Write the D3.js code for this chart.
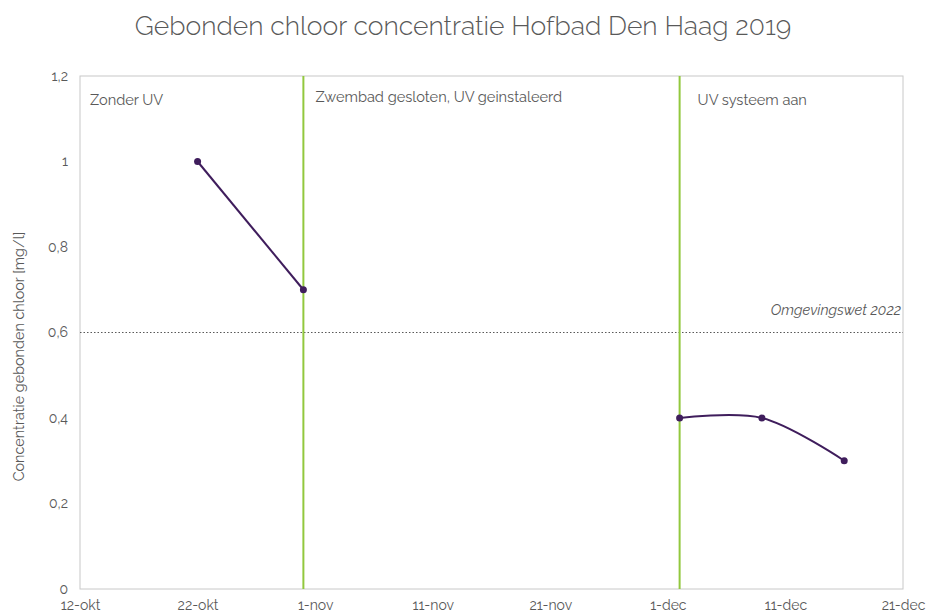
<!DOCTYPE html>
<html>
<head>
<meta charset="utf-8">
<script src="https://cdn.jsdelivr.net/npm/d3@7"></script>
<style>
  body { margin: 0; background: #fff; }
  text { font-family: Raleway, Lato, "Open Sans", sans-serif; fill: #595959; }
</style>
</head>
<body>
<div id="chart"></div>
<script>
// data
const datesZonderUV = ["2019-10-22", "2019-10-31"];
const valuesZonderUV = [1.0, 0.7];
const datesMetUV = ["2019-12-02", "2019-12-09", "2019-12-16"];
const valuesMetUV = [0.4, 0.4, 0.3];
const markerDates = ["2019-10-31", "2019-12-02"];
const tickDates = ["2019-10-12", "2019-10-22", "2019-11-01", "2019-11-11", "2019-11-21", "2019-12-01", "2019-12-11", "2019-12-21"];
const yTicks = [0, 0.2, 0.4, 0.6, 0.8, 1, 1.2];
const normValue = 0.6;
const monthNames = ["jan", "feb", "mrt", "apr", "mei", "jun", "jul", "aug", "sep", "okt", "nov", "dec"];

const svgWidth = 926, svgHeight = 614;
const margin = { top: 76, right: 23, bottom: 25, left: 80 };
const width = svgWidth - margin.left - margin.right;
const height = svgHeight - margin.top - margin.bottom;

const parse = d3.utcParse("%Y-%m-%d");

const svg = d3.select("#chart").append("svg")
  .attr("width", svgWidth)
  .attr("height", svgHeight);

svg.append("text")
  .attr("x", svgWidth / 2)
  .attr("y", 35)
  .attr("text-anchor", "middle")
  .style("font-size", "26.5px")
  .style("font-weight", 300)
  .text("Gebonden chloor concentratie Hofbad Den Haag 2019");

const g = svg.append("g")
  .attr("transform", `translate(${margin.left}, ${margin.top})`);

const x = d3.scaleUtc()
  .domain([parse("2019-10-12"), parse("2019-12-21")])
  .range([0, width]);

const y = d3.scaleLinear()
  .domain([0, 1.2])
  .range([height, 0]);

// plot frame
g.append("rect")
  .attr("width", width)
  .attr("height", height)
  .attr("fill", "none")
  .attr("stroke", "#c8c8c8")
  .attr("stroke-width", 1);

// axes (labels only, frame draws the lines)
const xAxis = d3.axisBottom(x)
  .tickValues(tickDates.map(parse))
  .tickSize(0)
  .tickPadding(11)
  .tickFormat(d => d.getUTCDate() + "-" + monthNames[d.getUTCMonth()]);

const xg = g.append("g")
  .attr("transform", `translate(0, ${height})`)
  .call(xAxis);
xg.select(".domain").remove();
xg.selectAll("text").style("font-size", "14px").style("font-family", null).attr("fill", null);

const yAxis = d3.axisLeft(y)
  .tickValues(yTicks)
  .tickSize(0)
  .tickPadding(12)
  .tickFormat(d => String(d).replace(".", ","));

const yg = g.append("g").call(yAxis);
yg.select(".domain").remove();
yg.selectAll("text").style("font-size", "14px").style("font-family", null).attr("fill", null);

svg.append("text")
  .attr("transform", `translate(24, ${margin.top + height / 2 + 24}) rotate(-90)`)
  .attr("text-anchor", "middle")
  .style("font-size", "14.4px")
  .text("Concentratie gebonden chloor [mg/l]");

// norm line
g.append("line")
  .attr("x1", 0).attr("x2", width)
  .attr("y1", y(normValue)).attr("y2", y(normValue))
  .attr("stroke", "#595959")
  .attr("stroke-width", 1.2)
  .attr("stroke-dasharray", "1.5,2");

g.append("text")
  .attr("x", width - 2)
  .attr("y", y(normValue) - 18)
  .attr("text-anchor", "end")
  .style("font-size", "14.5px")
  .style("font-style", "italic")
  .text("Omgevingswet 2022");

// vertical event lines
g.selectAll(".event")
  .data(markerDates.map(parse))
  .enter()
  .append("line")
  .attr("class", "event")
  .attr("x1", d => x(d)).attr("x2", d => x(d))
  .attr("y1", 0).attr("y2", height)
  .attr("stroke", "#92c83e")
  .attr("stroke-width", 2);

// period labels
const labels = [
  { text: "Zonder UV", x: 10, y: 29 },
  { text: "Zwembad gesloten, UV geinstaleerd", x: x(parse("2019-10-31")) + 12, y: 26 },
  { text: "UV systeem aan", x: x(parse("2019-12-02")) + 18, y: 29 }
];
g.selectAll(".period")
  .data(labels)
  .enter()
  .append("text")
  .attr("class", "period")
  .attr("x", d => d.x)
  .attr("y", d => d.y)
  .style("font-size", "14.6px")
  .text(d => d.text);

// series
const lineColor = "#3f1d5c";
const series = [
  { dates: datesZonderUV, values: valuesZonderUV },
  { dates: datesMetUV, values: valuesMetUV }
];

const line = d3.line()
  .x(d => x(d.date))
  .y(d => y(d.value))
  .curve(d3.curveCatmullRom.alpha(0.5));

series.forEach(s => {
  const pts = s.dates.map((dt, i) => ({ date: parse(dt), value: s.values[i] }));
  g.append("path")
    .datum(pts)
    .attr("fill", "none")
    .attr("stroke", lineColor)
    .attr("stroke-width", 2)
    .attr("d", line);
  g.selectAll(null)
    .data(pts)
    .enter()
    .append("circle")
    .attr("cx", d => x(d.date))
    .attr("cy", d => y(d.value))
    .attr("r", 3.5)
    .attr("fill", lineColor);
});
</script>
</body>
</html>
